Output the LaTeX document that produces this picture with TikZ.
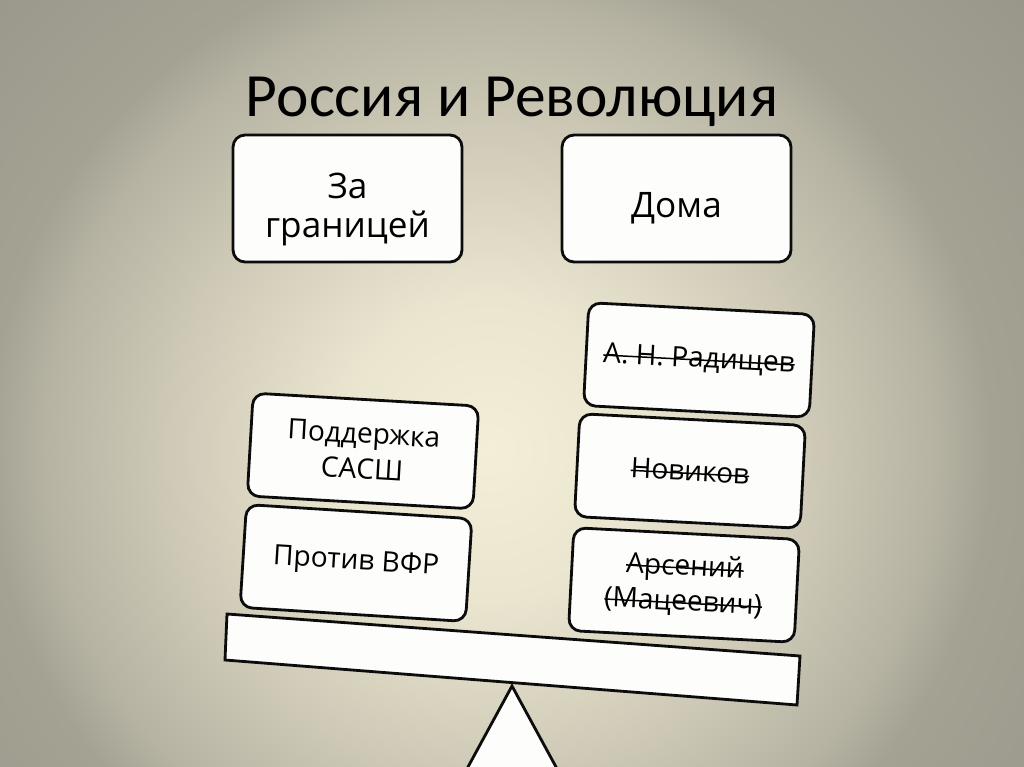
\documentclass[tikz,border=0pt]{standalone}
\usepackage{fontspec}
\setmainfont{Open Sans}
\newfontfamily\titlefont{Carlito}
\newsavebox\strkbox
\newcommand\strk[1]{\sbox\strkbox{#1}\rlap{\rule[0.24em]{\wd\strkbox}{0.85pt}}\usebox\strkbox}
\definecolor{bgc0}{HTML}{F3EED8}
\definecolor{bgc1}{HTML}{EAE5CF}
\definecolor{bgc2}{HTML}{CCC8B5}
\definecolor{bgc3}{HTML}{B6B3A3}
\definecolor{bgc4}{HTML}{A4A293}
\definecolor{bgc5}{HTML}{99978A}
\definecolor{edge}{HTML}{0C0C0C}
\definecolor{paper}{HTML}{FDFDFB}
\pgfdeclareradialshading{bgshade}{\pgfpoint{0bp}{0bp}}{color(0bp)=(bgc0); color(5.4bp)=(bgc1); color(11.8bp)=(bgc2); color(15.9bp)=(bgc3); color(17.9bp)=(bgc4); color(25bp)=(bgc5); color(50bp)=(bgc5)}
\tikzset{
  card/.style={draw=edge, line width=1.6pt, fill=paper, rounded corners=0.24cm,
    minimum width=4.52cm, minimum height=2.06cm, align=center, inner sep=0pt,
    font=\fontsize{16}{20}\selectfont},
  head/.style={card, minimum width=4.58cm, minimum height=2.54cm},
  headtext/.style={align=center, inner sep=0pt, font=\fontsize{20}{22.5}\selectfont},
  plank/.style={draw=edge, line width=1.6pt, fill=paper, line join=miter},
}
\begin{document}
\begin{tikzpicture}[x=0.02cm, y=-0.02cm]
\useasboundingbox (0,0) rectangle (1024,767);
\begin{scope}
\clip (0,0) rectangle (1024,767);
\shade[shading=bgshade] (-210,-250) rectangle (1190,1150);
% fulcrum
\draw[plank] (512,686) -- (450,800) -- (574,800) -- cycle;
\end{scope}
% title
\node[font=\titlefont\fontsize{35}{40}\selectfont, anchor=base, inner sep=0pt] (title) at (512,116) {Россия и Революция};
% heading boxes
\node[head] (abroad) at (347.5,198.5) {};
\node[headtext] (abroadtext) at ([yshift=-0.22cm]abroad.center) {За\\границей};
\node[head] (home) at (676.5,198.5) {};
\node[headtext] (hometext) at ([yshift=-0.2cm]home.center) {Дома};
% left pan
\node[card, rotate=-3.3] (support) at (363,451) {Поддержка\\САСШ};
\node[card, rotate=-3.6] (against) at (356,563) {Против ВФР};
% right pan
\node[card, rotate=-3.0] (radish) at (699,360) {\strk{А. Н. Радищев}};
\node[card, rotate=-3.0] (novikov) at (690,471) {\strk{Новиков}};
\node[card, rotate=-3.0] (arseny) at (684,585) {\strk{Арсений}\\\strk{(Мацеевич)}};
% beam
\draw[plank] (227,614) -- (800,656) -- (797,705) -- (225,660) -- cycle;
\end{tikzpicture}
\end{document}
